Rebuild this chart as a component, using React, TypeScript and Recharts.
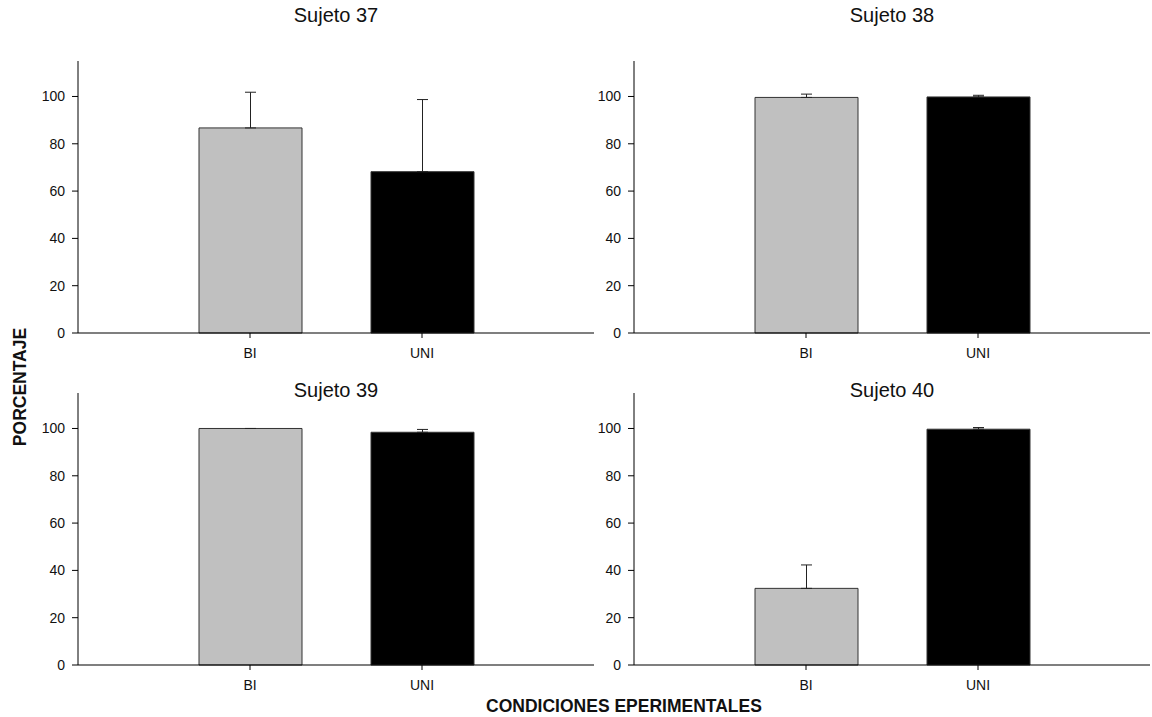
import { BarChart, Bar, XAxis, YAxis, Cell, ErrorBar } from 'recharts';

const FONT = '"Liberation Sans", Arial, Helvetica, sans-serif';

const conditions = ['BI', 'UNI'];
const barColors = ['#c0c0c0', '#000000'];
const yTicks = [0, 20, 40, 60, 80, 100];

const subjects = ['Sujeto 37', 'Sujeto 38', 'Sujeto 39', 'Sujeto 40'];

// mean percentage per condition and its (upper) error
const means37 = [86.7, 68.2];
const errors37 = [15.1, 30.5];
const means38 = [99.6, 99.8];
const errors38 = [1.4, 0.7];
const means39 = [100, 98.4];
const errors39 = [0, 1.2];
const means40 = [32.4, 99.7];
const errors40 = [9.9, 0.7];

const buildRows = (means: number[], errors: number[]) =>
  conditions.map((condition, i) => ({
    condition,
    value: means[i],
    err: [0, errors[i]],
  }));

interface PanelProps {
  rows: { condition: string; value: number; err: number[] }[];
  left: number;
  top: number;
  height: number;
  marginTop: number;
}

function Panel({ rows, left, top, height, marginTop }: PanelProps) {
  return (
    <div style={{ position: 'absolute', left, top }}>
      <BarChart
        width={596}
        height={height}
        data={rows}
        margin={{ top: marginTop, right: 2, left: 18, bottom: height - marginTop - 272 - 30 }}
      >
        <XAxis
          dataKey="condition"
          padding={{ left: 86, right: 86 }}
          height={30}
          tickSize={5}
          tickMargin={10}
          axisLine={{ stroke: '#000', strokeWidth: 1.2 }}
          tickLine={{ stroke: '#000' }}
          tick={{ fontSize: 14, fill: '#111', fontFamily: FONT }}
        />
        <YAxis
          domain={[0, 115]}
          ticks={yTicks}
          width={60}
          tickSize={6}
          tickMargin={7}
          axisLine={{ stroke: '#000' }}
          tickLine={{ stroke: '#000' }}
          tick={{ fontSize: 14, fill: '#111', fontFamily: FONT }}
        />
        <Bar dataKey="value" barSize={103} stroke="#333" strokeWidth={1} isAnimationActive={false}>
          {rows.map((r, i) => (
            <Cell key={r.condition} fill={barColors[i]} />
          ))}
          <ErrorBar dataKey="err" width={5.5} stroke="#222" strokeWidth={1} direction="y" />
        </Bar>
      </BarChart>
    </div>
  );
}

export default function App() {
  const panels = [
    { rows: buildRows(means37, errors37), left: 0, top: 0, height: 370, marginTop: 61 },
    { rows: buildRows(means38, errors38), left: 556, top: 0, height: 370, marginTop: 61 },
    { rows: buildRows(means39, errors39), left: 0, top: 350, height: 350, marginTop: 43 },
    { rows: buildRows(means40, errors40), left: 556, top: 350, height: 350, marginTop: 43 },
  ];
  const titlePos = [
    { x: 336, y: 22 },
    { x: 892, y: 22 },
    { x: 336, y: 397 },
    { x: 892, y: 397 },
  ];

  return (
    <div
      style={{
        position: 'fixed',
        left: 0,
        top: 0,
        width: 1152,
        height: 717,
        background: '#fff',
        fontFamily: FONT,
      }}
    >
      {panels.map((p, i) => (
        <Panel key={subjects[i]} {...p} />
      ))}
      <svg
        width={1152}
        height={717}
        style={{ position: 'absolute', left: 0, top: 0, pointerEvents: 'none' }}
      >
        {subjects.map((s, i) => (
          <text
            key={s}
            x={titlePos[i].x}
            y={titlePos[i].y}
            textAnchor="middle"
            fontSize={20}
            fontFamily={FONT}
            fill="#111"
          >
            {s}
          </text>
        ))}
        <text
          x={26}
          y={387}
          transform="rotate(-90 26 387)"
          textAnchor="middle"
          fontSize={17.5}
          fontWeight="bold"
          fontFamily={FONT}
          fill="#111"
        >
          PORCENTAJE
        </text>
        <text
          x={624}
          y={712}
          textAnchor="middle"
          fontSize={17.5}
          fontWeight="bold"
          fontFamily={FONT}
          fill="#111"
        >
          CONDICIONES EPERIMENTALES
        </text>
      </svg>
    </div>
  );
}
